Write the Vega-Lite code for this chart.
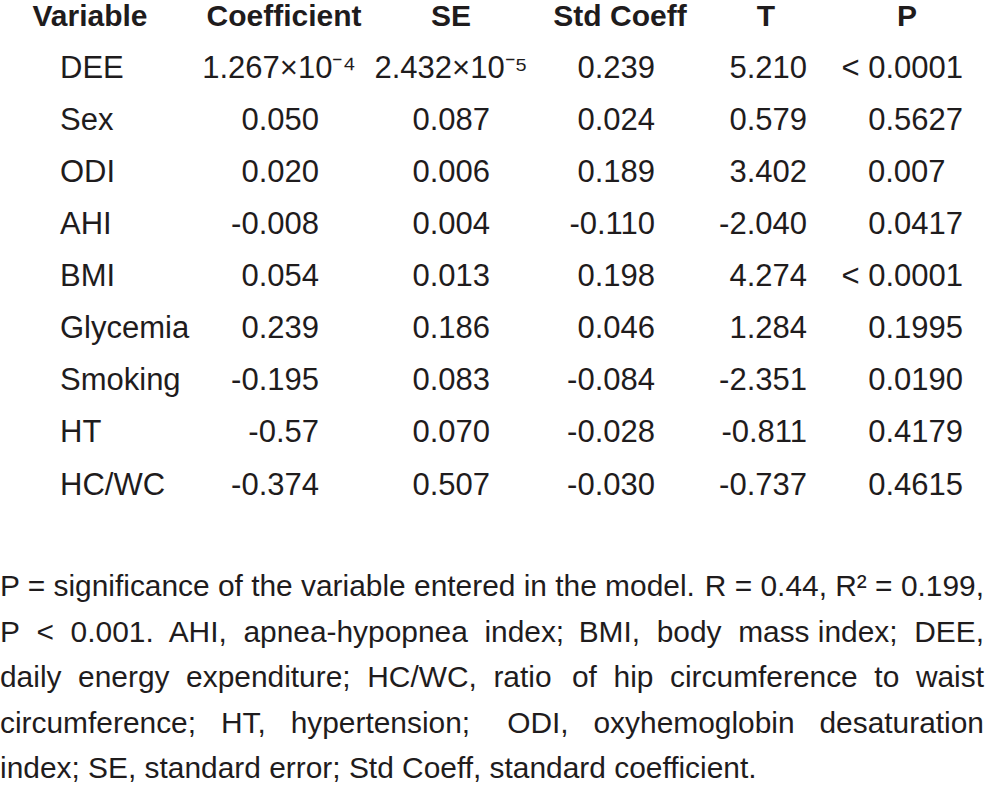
{
  "$schema": "https://vega.github.io/schema/vega-lite/v6.json",
  "width": 986,
  "height": 787,
  "autosize": {"type": "fit", "contains": "padding"},
  "padding": 0,
  "background": "white",
  "view": {"stroke": null},
  "config": {"text": {"font": "Liberation Sans, Arial, sans-serif", "fontSize": 31, "color": "#1f1c1d", "baseline": "alphabetic"}},
  "datasets": {
    "table": [
      {"r": 0, "c": 0, "t": "head", "v": "Variable"},
      {"r": 0, "c": 1, "t": "head", "v": "Coefficient"},
      {"r": 0, "c": 2, "t": "head", "v": "SE"},
      {"r": 0, "c": 3, "t": "head", "v": "Std Coeff"},
      {"r": 0, "c": 4, "t": "head", "v": "T"},
      {"r": 0, "c": 5, "t": "head", "v": "P"},
      {"r": 1, "c": 0, "t": "var", "v": "DEE"},
      {"r": 1, "c": 1, "t": "sci", "v": "1.267×10⁻⁴"},
      {"r": 1, "c": 2, "t": "sci", "v": "2.432×10⁻⁵"},
      {"r": 1, "c": 3, "t": "num", "v": "0.239"},
      {"r": 1, "c": 4, "t": "num", "v": "5.210"},
      {"r": 1, "c": 5, "t": "num", "v": "< 0.0001"},
      {"r": 2, "c": 0, "t": "var", "v": "Sex"},
      {"r": 2, "c": 1, "t": "num", "v": "0.050"},
      {"r": 2, "c": 2, "t": "num", "v": "0.087"},
      {"r": 2, "c": 3, "t": "num", "v": "0.024"},
      {"r": 2, "c": 4, "t": "num", "v": "0.579"},
      {"r": 2, "c": 5, "t": "num", "v": "0.5627"},
      {"r": 3, "c": 0, "t": "var", "v": "ODI"},
      {"r": 3, "c": 1, "t": "num", "v": "0.020"},
      {"r": 3, "c": 2, "t": "num", "v": "0.006"},
      {"r": 3, "c": 3, "t": "num", "v": "0.189"},
      {"r": 3, "c": 4, "t": "num", "v": "3.402"},
      {"r": 3, "c": 5, "t": "lnum", "v": "0.007"},
      {"r": 4, "c": 0, "t": "var", "v": "AHI"},
      {"r": 4, "c": 1, "t": "num", "v": "-0.008"},
      {"r": 4, "c": 2, "t": "num", "v": "0.004"},
      {"r": 4, "c": 3, "t": "num", "v": "-0.110"},
      {"r": 4, "c": 4, "t": "num", "v": "-2.040"},
      {"r": 4, "c": 5, "t": "num", "v": "0.0417"},
      {"r": 5, "c": 0, "t": "var", "v": "BMI"},
      {"r": 5, "c": 1, "t": "num", "v": "0.054"},
      {"r": 5, "c": 2, "t": "num", "v": "0.013"},
      {"r": 5, "c": 3, "t": "num", "v": "0.198"},
      {"r": 5, "c": 4, "t": "num", "v": "4.274"},
      {"r": 5, "c": 5, "t": "num", "v": "< 0.0001"},
      {"r": 6, "c": 0, "t": "var", "v": "Glycemia"},
      {"r": 6, "c": 1, "t": "num", "v": "0.239"},
      {"r": 6, "c": 2, "t": "num", "v": "0.186"},
      {"r": 6, "c": 3, "t": "num", "v": "0.046"},
      {"r": 6, "c": 4, "t": "num", "v": "1.284"},
      {"r": 6, "c": 5, "t": "num", "v": "0.1995"},
      {"r": 7, "c": 0, "t": "var", "v": "Smoking"},
      {"r": 7, "c": 1, "t": "num", "v": "-0.195"},
      {"r": 7, "c": 2, "t": "num", "v": "0.083"},
      {"r": 7, "c": 3, "t": "num", "v": "-0.084"},
      {"r": 7, "c": 4, "t": "num", "v": "-2.351"},
      {"r": 7, "c": 5, "t": "num", "v": "0.0190"},
      {"r": 8, "c": 0, "t": "var", "v": "HT"},
      {"r": 8, "c": 1, "t": "num", "v": "-0.57"},
      {"r": 8, "c": 2, "t": "num", "v": "0.070"},
      {"r": 8, "c": 3, "t": "num", "v": "-0.028"},
      {"r": 8, "c": 4, "t": "num", "v": "-0.811"},
      {"r": 8, "c": 5, "t": "num", "v": "0.4179"},
      {"r": 9, "c": 0, "t": "var", "v": "HC/WC"},
      {"r": 9, "c": 1, "t": "num", "v": "-0.374"},
      {"r": 9, "c": 2, "t": "num", "v": "0.507"},
      {"r": 9, "c": 3, "t": "num", "v": "-0.030"},
      {"r": 9, "c": 4, "t": "num", "v": "-0.737"},
      {"r": 9, "c": 5, "t": "num", "v": "0.4615"}
    ],
    "notes": [
      {"line": 0, "side": 0, "text": "P = significance of the variable entered in the model."},
      {"line": 0, "side": 1, "text": "R = 0.44, R² = 0.199,"},
      {"line": 1, "side": 0, "text": "P\u00a0 <\u00a0 0.001.\u00a0 AHI,\u00a0 apnea-hypopnea\u00a0 index;"},
      {"line": 1, "side": 1, "text": "BMI,\u00a0 body\u00a0 mass index;\u00a0 DEE,"},
      {"line": 2, "side": 0, "text": "daily\u00a0 energy\u00a0 expenditure;\u00a0 HC/WC,\u00a0 ratio"},
      {"line": 2, "side": 1, "text": "of\u00a0 hip\u00a0 circumference\u00a0 to\u00a0 waist"},
      {"line": 3, "side": 0, "text": "circumference;\u00a0\u00a0 HT,\u00a0\u00a0 hypertension;"},
      {"line": 3, "side": 1, "text": "ODI,\u00a0\u00a0 oxyhemoglobin\u00a0\u00a0 desaturation"},
      {"line": 4, "side": 0, "text": "index; SE, standard error; Std Coeff, standard coefficient."}
    ]
  },
  "layer": [
    {
      "data": {"name": "table"},
      "transform": [{"filter": "datum.t === 'head'"}],
      "mark": {"type": "text", "align": "center", "fontWeight": "bold", "fontSize": 30},
      "encoding": {
        "x": {"field": "c", "type": "quantitative", "axis": null, "scale": {"domain": [0, 1, 2, 3, 4, 5], "range": [90, 284, 451, 620, 766, 907], "nice": false, "zero": false}},
        "y": {"field": "r", "type": "quantitative", "axis": null, "scale": {"domain": [0, 9], "range": [26, 494.5], "nice": false, "zero": false}},
        "text": {"field": "v"}
      }
    },
    {
      "data": {"name": "table"},
      "transform": [{"filter": "datum.t === 'var'"}],
      "mark": {"type": "text", "align": "left"},
      "encoding": {
        "x": {"field": "c", "type": "quantitative", "axis": null, "scale": {"domain": [0, 5], "range": [60, 963], "nice": false, "zero": false}},
        "y": {"field": "r", "type": "quantitative", "axis": null, "scale": {"domain": [0, 9], "range": [26, 494.5], "nice": false, "zero": false}},
        "text": {"field": "v"}
      }
    },
    {
      "data": {"name": "table"},
      "transform": [{"filter": "datum.t === 'num'"}],
      "mark": {"type": "text", "align": "right"},
      "encoding": {
        "x": {"field": "c", "type": "quantitative", "axis": null, "scale": {"domain": [1, 2, 3, 4, 5], "range": [319, 490, 655, 807, 963], "nice": false, "zero": false}},
        "y": {"field": "r", "type": "quantitative", "axis": null, "scale": {"domain": [0, 9], "range": [26, 494.5], "nice": false, "zero": false}},
        "text": {"field": "v"}
      }
    },
    {
      "data": {"name": "table"},
      "transform": [{"filter": "datum.t === 'lnum'"}],
      "mark": {"type": "text", "align": "left"},
      "encoding": {
        "x": {"field": "c", "type": "quantitative", "axis": null, "scale": {"domain": [4, 5], "range": [700, 868], "nice": false, "zero": false}},
        "y": {"field": "r", "type": "quantitative", "axis": null, "scale": {"domain": [0, 9], "range": [26, 494.5], "nice": false, "zero": false}},
        "text": {"field": "v"}
      }
    },
    {
      "data": {"name": "table"},
      "transform": [{"filter": "datum.t === 'sci'"}],
      "mark": {"type": "text", "align": "center"},
      "encoding": {
        "x": {"field": "c", "type": "quantitative", "axis": null, "scale": {"domain": [1, 2], "range": [279, 451], "nice": false, "zero": false}},
        "y": {"field": "r", "type": "quantitative", "axis": null, "scale": {"domain": [0, 9], "range": [26, 494.5], "nice": false, "zero": false}},
        "text": {"field": "v"}
      }
    },
    {
      "data": {"name": "notes"},
      "transform": [{"filter": "datum.side === 0"}],
      "mark": {"type": "text", "align": "left", "fontSize": 29.9},
      "encoding": {
        "x": {"field": "side", "type": "quantitative", "axis": null, "scale": {"domain": [0, 1], "range": [0, 984], "nice": false, "zero": false}},
        "y": {"field": "line", "type": "quantitative", "axis": null, "scale": {"domain": [0, 4], "range": [596, 778], "nice": false, "zero": false}},
        "text": {"field": "text"}
      }
    },
    {
      "data": {"name": "notes"},
      "transform": [{"filter": "datum.side === 1"}],
      "mark": {"type": "text", "align": "right", "fontSize": 29.9},
      "encoding": {
        "x": {"field": "side", "type": "quantitative", "axis": null, "scale": {"domain": [0, 1], "range": [0, 984], "nice": false, "zero": false}},
        "y": {"field": "line", "type": "quantitative", "axis": null, "scale": {"domain": [0, 4], "range": [596, 778], "nice": false, "zero": false}},
        "text": {"field": "text"}
      }
    }
  ],
  "resolve": {"scale": {"x": "independent", "y": "independent"}}
}
